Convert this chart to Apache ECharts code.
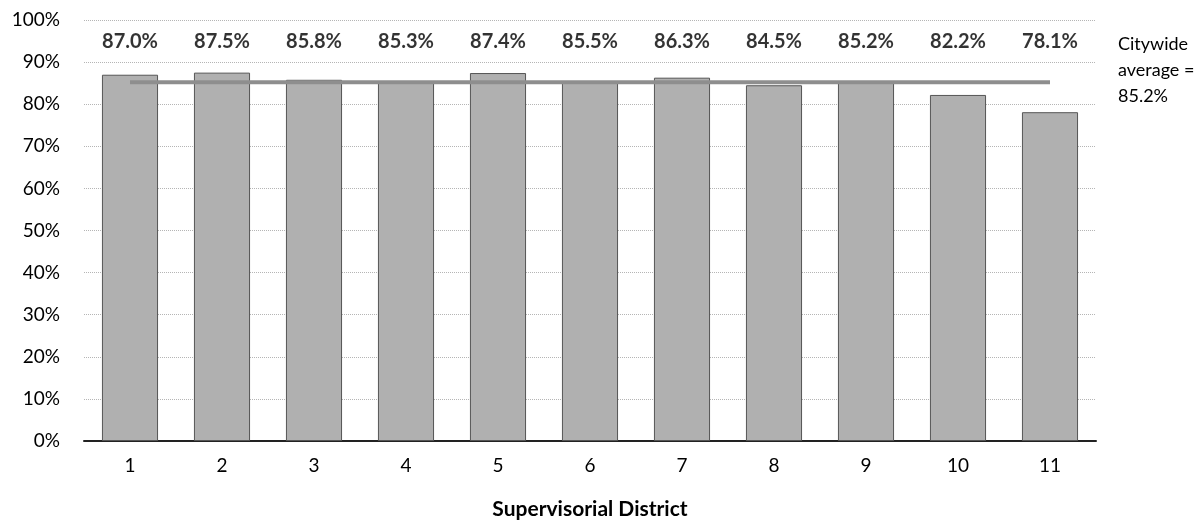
<!DOCTYPE html>
<html><head><meta charset="utf-8">
<script src="https://cdn.jsdelivr.net/npm/echarts@6/dist/echarts.min.js"></script>
<style>html,body{margin:0;padding:0;background:#fff}#c{width:1204px;height:525px}</style>
</head><body><div id="c"></div>
<script>
const categories = ['1','2','3','4','5','6','7','8','9','10','11'];
const values = [87.0, 87.5, 85.8, 85.3, 87.4, 85.5, 86.3, 84.5, 85.2, 82.2, 78.1];
const citywideAverage = 85.2;
const labelRowValue = 94.9;
const FONT = 'Lato';

const chart = echarts.init(document.getElementById('c'), null, {renderer:'canvas'});
chart.setOption({
  animation:false,
  grid:{left:84, right:108, top:20, bottom:84, containLabel:false},
  xAxis:{type:'category', data:categories,
    axisLine:{lineStyle:{color:'#222', width:2}}, axisTick:{show:false},
    axisLabel:{fontFamily:FONT, fontSize:19, color:'#000', margin:15},
    name:'Supervisorial District', nameLocation:'middle', nameGap:58,
    nameTextStyle:{fontFamily:FONT, fontSize:21, fontWeight:'bold', color:'#000'}},
  yAxis:{type:'value', min:0, max:100, interval:10,
    axisLine:{show:false}, axisTick:{show:false},
    axisLabel:{fontFamily:FONT, fontSize:19, color:'#000', margin:24, formatter:v=>v+'%'},
    splitLine:{lineStyle:{color:'#b5b5b5', type:'dotted', width:1}}},
  series:[
    {type:'bar', data:values, barWidth:'61%',
      itemStyle:{color:'#b0b0b0', borderColor:'#555', borderWidth:1}, z:2},
    {type:'line', data:categories.map(()=>citywideAverage), symbol:'none',
      lineStyle:{color:'#8e8e8e', width:4}, z:3},
    {type:'scatter', data:values.map(()=>labelRowValue), symbolSize:0, z:4,
      label:{show:true, position:'inside', fontFamily:FONT, fontSize:20, fontWeight:'bold', color:'#000',
        formatter:p=>values[p.dataIndex].toFixed(1)+'%'}}
  ],
  graphic:[{type:'text', left:1118, top:31,
    style:{text:'Citywide\naverage =\n'+citywideAverage.toFixed(1)+'%', font:'18px Lato', fill:'#000', lineHeight:26}}]
});
</script></body></html>
